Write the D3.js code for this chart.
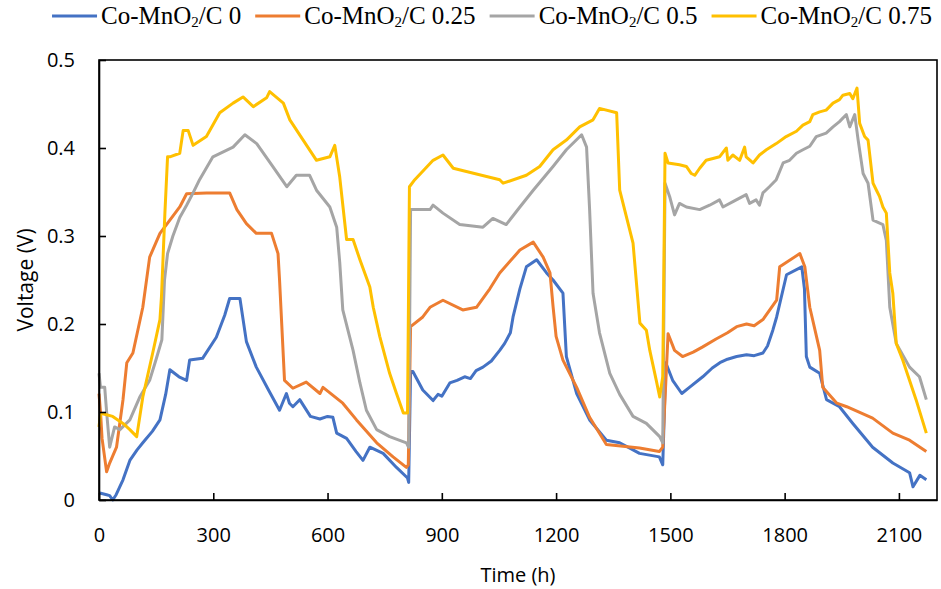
<!DOCTYPE html>
<html>
<head>
<meta charset="utf-8">
<script src="https://cdn.jsdelivr.net/npm/d3@7"></script>
<style>
  body { margin: 0; background: #fff; }
  text { font-family: 'Open Sans', sans-serif; fill: #000; }
</style>
</head>
<body>
<script>
// series names, drawn in this order (last one on top)
const names = ['0', '0.25', '0.5', '0.75'];
const colors = ['#4472C4', '#ED7D31', '#A5A5A5', '#FFC000'];
const xTicks = [0, 300, 600, 900, 1200, 1500, 1800, 2100];
const yTicks = [0, 0.1, 0.2, 0.3, 0.4, 0.5];

// [time (h), voltage (V)]
const cmc0 = [[2,0.008],[20,0.006],[28,0.005],[36,0.0],[45,0.006],[63,0.023],[81,0.045],[100,0.057],
  [115,0.065],[140,0.078],[160,0.091],[175,0.12],[186,0.148],[210,0.14],[230,0.136],[238,0.159],
  [272,0.161],[308,0.185],[330,0.21],[343,0.229],[370,0.229],[387,0.18],[413,0.151],[445,0.125],
  [474,0.102],[492,0.121],[500,0.11],[509,0.106],[527,0.114],[555,0.095],[580,0.092],[600,0.095],
  [614,0.094],[624,0.076],[650,0.07],[675,0.055],[693,0.045],[711,0.06],[746,0.053],[781,0.037],
  [810,0.025],[813,0.02],[818,0.146],[824,0.146],[850,0.125],[877,0.113],[890,0.12],[900,0.118],
  [921,0.133],[940,0.136],[960,0.14],[975,0.138],[990,0.147],[1008,0.151],[1030,0.158],
  [1052,0.17],[1065,0.178],[1080,0.19],[1087,0.208],[1105,0.24],[1122,0.265],[1149,0.273],
  [1175,0.258],[1192,0.25],[1218,0.235],[1227,0.163],[1254,0.121],[1288,0.091],[1332,0.068],
  [1367,0.065],[1419,0.053],[1471,0.049],[1480,0.04],[1488,0.156],[1506,0.136],[1530,0.121],
  [1550,0.128],[1585,0.14],[1610,0.15],[1630,0.156],[1650,0.16],[1674,0.163],[1700,0.165],
  [1720,0.164],[1743,0.167],[1755,0.175],[1769,0.193],[1779,0.208],[1805,0.256],[1845,0.265],
  [1852,0.24],[1857,0.163],[1866,0.151],[1892,0.144],[1910,0.114],[1944,0.106],[1979,0.087],
  [2031,0.06],[2084,0.042],[2128,0.031],[2137,0.015],[2155,0.028],[2172,0.023]];

const cmc025 = [[0,0.121],[4,0.1],[8,0.07],[20,0.032],[28,0.042],[46,0.06],[63,0.114],[73,0.156],
  [89,0.167],[115,0.219],[133,0.276],[160,0.303],[186,0.318],[212,0.333],[230,0.348],[282,0.349],
  [343,0.349],[362,0.33],[387,0.314],[413,0.303],[453,0.303],[470,0.28],[474,0.25],[487,0.136],
  [509,0.127],[544,0.134],[580,0.121],[588,0.128],[640,0.11],[676,0.091],[729,0.065],[772,0.049],
  [807,0.037],[812,0.04],[818,0.197],[850,0.208],[869,0.219],[903,0.227],[955,0.216],[991,0.219],
  [1026,0.24],[1052,0.258],[1105,0.284],[1140,0.293],[1166,0.276],[1184,0.258],[1192,0.22],
  [1200,0.186],[1218,0.159],[1254,0.128],[1288,0.094],[1332,0.063],[1419,0.059],[1471,0.055],
  [1480,0.06],[1494,0.189],[1511,0.17],[1532,0.163],[1560,0.168],[1585,0.174],[1620,0.183],
  [1650,0.19],[1674,0.197],[1700,0.2],[1720,0.198],[1743,0.205],[1779,0.227],[1787,0.265],
  [1840,0.28],[1853,0.265],[1866,0.219],[1892,0.17],[1900,0.128],[1937,0.11],[1963,0.106],
  [2031,0.093],[2084,0.076],[2128,0.068],[2172,0.055]];

const cmc05 = [[0,0.144],[4,0.128],[15,0.128],[20,0.1],[28,0.06],[41,0.083],[55,0.08],[81,0.091],
  [107,0.117],[133,0.136],[150,0.16],[165,0.182],[172,0.25],[180,0.28],[194,0.3],[212,0.321],
  [230,0.335],[247,0.349],[264,0.364],[299,0.39],[352,0.401],[383,0.415],[414,0.405],[456,0.379],
  [493,0.356],[518,0.369],[553,0.369],[571,0.352],[606,0.333],[624,0.31],[632,0.27],[640,0.216],
  [667,0.17],[685,0.133],[702,0.102],[729,0.08],[763,0.072],[807,0.065],[813,0.06],[818,0.33],
  [869,0.33],[877,0.335],[903,0.326],[947,0.313],[1008,0.31],[1034,0.32],[1069,0.313],
  [1105,0.333],[1140,0.352],[1192,0.379],[1227,0.398],[1267,0.415],[1280,0.401],[1288,0.33],
  [1297,0.235],[1314,0.19],[1341,0.144],[1367,0.12],[1402,0.095],[1437,0.087],[1472,0.072],
  [1480,0.065],[1486,0.36],[1498,0.345],[1511,0.324],[1524,0.337],[1542,0.333],[1577,0.33],
  [1603,0.335],[1629,0.341],[1638,0.333],[1673,0.341],[1699,0.347],[1708,0.337],[1725,0.341],
  [1734,0.335],[1743,0.349],[1760,0.356],[1778,0.364],[1796,0.383],[1813,0.386],[1831,0.394],
  [1848,0.398],[1866,0.402],[1883,0.413],[1909,0.417],[1927,0.424],[1944,0.43],[1962,0.438],
  [1971,0.424],[1984,0.438],[1993,0.409],[2006,0.371],[2019,0.36],[2032,0.318],[2058,0.313],
  [2067,0.295],[2076,0.219],[2093,0.178],[2128,0.151],[2154,0.14],[2172,0.114]];

const cmc075 = [[0,0.083],[4,0.098],[10,0.098],[36,0.095],[63,0.087],[81,0.08],[99,0.072],
  [115,0.117],[141,0.167],[160,0.205],[164,0.231],[173,0.326],[180,0.39],[186,0.39],[212,0.394],
  [221,0.42],[234,0.42],[247,0.403],[282,0.413],[317,0.44],[352,0.451],[378,0.458],[405,0.447],
  [440,0.457],[448,0.464],[484,0.451],[501,0.432],[536,0.409],[571,0.386],[606,0.39],[619,0.403],
  [632,0.367],[650,0.296],[667,0.296],[685,0.273],[711,0.242],[720,0.219],[737,0.186],
  [763,0.144],[781,0.121],[799,0.099],[810,0.099],[815,0.356],[829,0.364],[877,0.386],
  [903,0.392],[930,0.377],[1052,0.364],[1061,0.36],[1122,0.369],[1157,0.379],[1192,0.398],
  [1227,0.409],[1262,0.424],[1297,0.432],[1314,0.445],[1359,0.44],[1367,0.352],[1402,0.292],
  [1420,0.201],[1437,0.193],[1446,0.17],[1463,0.136],[1472,0.117],[1480,0.14],[1486,0.394],
  [1494,0.383],[1524,0.381],[1542,0.379],[1555,0.371],[1564,0.369],[1577,0.377],[1594,0.386],
  [1612,0.388],[1629,0.39],[1647,0.4],[1651,0.386],[1664,0.392],[1682,0.386],[1695,0.401],
  [1699,0.39],[1717,0.383],[1734,0.392],[1752,0.398],[1778,0.405],[1804,0.413],[1831,0.419],
  [1848,0.426],[1866,0.43],[1874,0.438],[1892,0.441],[1909,0.443],[1927,0.451],[1944,0.455],
  [1953,0.46],[1971,0.462],[1979,0.456],[1990,0.468],[1997,0.428],[2010,0.413],[2019,0.409],
  [2032,0.36],[2041,0.352],[2049,0.345],[2058,0.333],[2067,0.326],[2076,0.258],[2084,0.235],
  [2093,0.178],[2110,0.159],[2145,0.114],[2172,0.076]];

const allSeries = [cmc0, cmc025, cmc05, cmc075];

const width = 941, height = 589;
const margin = {top: 60, right: 4, bottom: 89, left: 99};

const svg = d3.select(document.body).append('svg')
  .attr('width', width)
  .attr('height', height);

const x = d3.scaleLinear().domain([0, 2200]).range([margin.left, width - margin.right]);
const y = d3.scaleLinear().domain([0, 0.5]).range([height - margin.bottom, margin.top]);

// lines first, frame on top like Excel does
const line = d3.line().x(d => x(d[0])).y(d => y(d[1]));
allSeries.forEach((s, i) => {
  svg.append('path')
    .attr('d', line(s))
    .attr('fill', 'none')
    .attr('stroke', colors[i])
    .attr('stroke-width', 3)
    .attr('stroke-linejoin', 'round');
});

svg.append('rect')
  .attr('x', x(0))
  .attr('y', y(0.5))
  .attr('width', x(2200) - x(0))
  .attr('height', y(0) - y(0.5))
  .attr('fill', 'none')
  .attr('stroke', '#000')
  .attr('stroke-width', 1.6);

const xAxis = svg.append('g')
  .attr('transform', `translate(0,${y(0)})`)
  .call(d3.axisBottom(x).tickValues(xTicks).tickSizeInner(-7).tickSizeOuter(0).tickPadding(28)
    .tickFormat(d => d));
const yAxis = svg.append('g')
  .attr('transform', `translate(${x(0)},0)`)
  .call(d3.axisLeft(y).tickValues(yTicks).tickSizeInner(-7).tickSizeOuter(0).tickPadding(24)
    .tickFormat(d => d));
[xAxis, yAxis].forEach(a => {
  a.select('.domain').attr('stroke', '#000').attr('stroke-width', 1.6);
  a.selectAll('.tick line').attr('stroke', '#000').attr('stroke-width', 1.6);
  a.selectAll('.tick text')
    .attr('font-family', "'Open Sans', sans-serif")
    .attr('font-size', 20)
    .attr('fill', '#000');
});

svg.append('text')
  .attr('x', (x(0) + x(2200)) / 2)
  .attr('y', 582)
  .attr('text-anchor', 'middle')
  .attr('font-size', 20)
  .text('Time (h)');

svg.append('text')
  .attr('transform', `translate(33,${(y(0) + y(0.5)) / 2}) rotate(-90)`)
  .attr('text-anchor', 'middle')
  .attr('font-size', 21)
  .text('Voltage (V)');

// legend: line + label, laid out one after another
const legend = svg.append('g');
let lx = 0;
names.forEach((n, i) => {
  const item = legend.append('g').attr('transform', `translate(${lx},0)`);
  item.append('line')
    .attr('x1', 0).attr('x2', 45)
    .attr('y1', 0).attr('y2', 0)
    .attr('stroke', colors[i])
    .attr('stroke-width', 3);
  const t = item.append('text')
    .attr('x', 49)
    .attr('y', 8)
    .style('font-family', "'Liberation Serif', 'Times New Roman', serif")
    .attr('font-size', 25);
  t.append('tspan').text('Co-MnO');
  t.append('tspan').attr('font-size', 15).attr('dy', 3).text('2');
  t.append('tspan').attr('dy', -3).text('/C ' + n);
  lx += 49 + t.node().getComputedTextLength() + 14;
});
const legendW = lx - 14;
legend.attr('transform', `translate(${(48 + 936 - legendW) / 2},16)`);
</script>
</body>
</html>
